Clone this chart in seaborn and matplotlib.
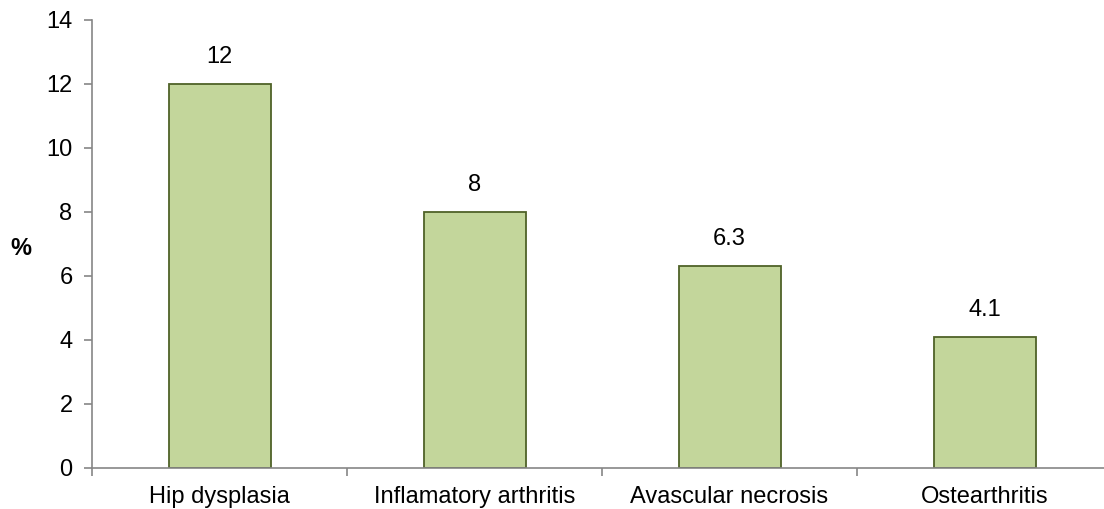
import seaborn as sns
import matplotlib.pyplot as plt
import pandas as pd

categories = ['Hip dysplasia', 'Inflamatory arthritis', 'Avascular necrosis', 'Ostearthritis']
values = [12, 8, 6.3, 4.1]
value_labels = ['12', '8', '6.3', '4.1']
yticks = [0, 2, 4, 6, 8, 10, 12, 14]

sns.set_style('white')
plt.rcParams['font.family'] = ['Liberation Sans', 'DejaVu Sans']
plt.rcParams['text.color'] = 'black'

df = pd.DataFrame({'cat': categories, 'val': values})

fig = plt.figure(figsize=(11.04, 5.09), dpi=100)
ax = fig.add_axes([92 / 1104, 41 / 509, 1020 / 1104, 448 / 509])
sns.barplot(data=df, x='cat', y='val', color='#c3d69b', saturation=1,
            width=0.4, edgecolor='#4f6228', linewidth=1.3, ax=ax)

for i, (v, lab) in enumerate(zip(values, value_labels)):
    ax.text(i, v + 0.5, lab, ha='center', va='bottom', fontsize=17, color='black')

ax.set_xlim(-0.5, 3.5)
ax.set_ylim(0, 14)
ax.set_yticks(yticks)
ax.set_xticks([-0.5, 0.5, 1.5, 2.5, 3.5])
ax.set_xticklabels([])
ax.set_xticks(range(len(categories)), minor=True)
ax.set_xticklabels(categories, minor=True, fontsize=17)
ax.tick_params(axis='x', which='minor', bottom=False, length=0, pad=13)
ax.tick_params(axis='x', which='major', bottom=True, length=6, width=1.2,
               color='#868686', direction='out')
ax.tick_params(axis='y', left=True, length=6, width=1.2, color='#868686',
               direction='out', labelsize=17, pad=8)
ax.tick_params(axis='both', which='both', labelcolor='black')

for s in ['top', 'right']:
    ax.spines[s].set_visible(False)
for s in ['left', 'bottom']:
    ax.spines[s].set_color('#868686')
    ax.spines[s].set_linewidth(1.2)

ax.set_xlabel('')
ax.set_ylabel('%', rotation=0, fontsize=17, fontweight='bold',
              ha='center', va='center', color='black')
ax.yaxis.set_label_coords(-0.0696, 0.491)

fig.savefig('out.png', dpi=100)
